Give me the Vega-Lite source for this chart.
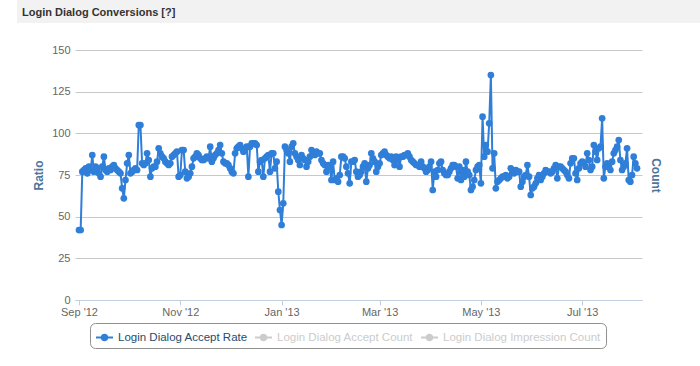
{
"$schema": "https://vega.github.io/schema/vega-lite/v6.json",
"background": "white",
"padding": {"left": 17, "top": 0, "right": 0, "bottom": 0},
"config": {"font": "Liberation Sans", "view": {"stroke": null}},
"spacing": 21,
"vconcat": [
{
"width": 683, "height": 23,
"view": {"fill": "#f2f2f2", "stroke": null},
"title": {"text": "Login Dialog Conversions [?]", "anchor": "start", "offset": -18, "dx": 5, "fontSize": 11, "font": "Liberation Sans", "fontWeight": "bold", "color": "#333333"},
"data": {"values": []},
"mark": "point"
},
{
"spacing": 14,
"hconcat": [
{"width": 1, "height": 1, "data": {"values": []}, "mark": "point"},
{
"width": 567, "height": 250,
"data": {"values": [
{"d":"2012-09-01","v":42},{"d":"2012-09-02","v":42},{"d":"2012-09-03","v":77},{"d":"2012-09-04","v":78},{"d":"2012-09-05","v":79},{"d":"2012-09-06","v":76},{"d":"2012-09-07","v":80},{"d":"2012-09-08","v":78},{"d":"2012-09-09","v":87},{"d":"2012-09-10","v":77},{"d":"2012-09-11","v":80},{"d":"2012-09-12","v":79},{"d":"2012-09-13","v":76},{"d":"2012-09-14","v":74},{"d":"2012-09-15","v":80},{"d":"2012-09-16","v":86},{"d":"2012-09-17","v":78},{"d":"2012-09-18","v":77},{"d":"2012-09-19","v":79},{"d":"2012-09-20","v":78},{"d":"2012-09-21","v":80},{"d":"2012-09-22","v":81},{"d":"2012-09-23","v":79},{"d":"2012-09-24","v":78},{"d":"2012-09-25","v":77},{"d":"2012-09-26","v":76},{"d":"2012-09-27","v":67},{"d":"2012-09-28","v":61},{"d":"2012-09-29","v":72},{"d":"2012-09-30","v":82},
{"d":"2012-10-01","v":87},{"d":"2012-10-02","v":76},{"d":"2012-10-03","v":77},{"d":"2012-10-04","v":78},{"d":"2012-10-05","v":79},{"d":"2012-10-06","v":78},{"d":"2012-10-07","v":105},{"d":"2012-10-08","v":105},{"d":"2012-10-09","v":82},{"d":"2012-10-10","v":81},{"d":"2012-10-11","v":82},{"d":"2012-10-12","v":88},{"d":"2012-10-13","v":84},{"d":"2012-10-14","v":74},{"d":"2012-10-15","v":79},{"d":"2012-10-16","v":80},{"d":"2012-10-17","v":80},{"d":"2012-10-18","v":83},{"d":"2012-10-19","v":91},{"d":"2012-10-20","v":88},{"d":"2012-10-21","v":86},{"d":"2012-10-22","v":85},{"d":"2012-10-23","v":83},{"d":"2012-10-24","v":82},{"d":"2012-10-25","v":81},{"d":"2012-10-26","v":82},{"d":"2012-10-27","v":86},{"d":"2012-10-28","v":87},{"d":"2012-10-29","v":88},{"d":"2012-10-30","v":89},{"d":"2012-10-31","v":74},
{"d":"2012-11-01","v":75},{"d":"2012-11-02","v":90},{"d":"2012-11-03","v":90},{"d":"2012-11-04","v":77},{"d":"2012-11-05","v":73},{"d":"2012-11-06","v":74},{"d":"2012-11-07","v":76},{"d":"2012-11-08","v":80},{"d":"2012-11-09","v":85},{"d":"2012-11-10","v":86},{"d":"2012-11-11","v":88},{"d":"2012-11-12","v":87},{"d":"2012-11-13","v":85},{"d":"2012-11-14","v":84},{"d":"2012-11-15","v":84},{"d":"2012-11-16","v":85},{"d":"2012-11-17","v":86},{"d":"2012-11-18","v":85},{"d":"2012-11-19","v":92},{"d":"2012-11-20","v":83},{"d":"2012-11-21","v":85},{"d":"2012-11-22","v":87},{"d":"2012-11-23","v":88},{"d":"2012-11-24","v":90},{"d":"2012-11-25","v":93},{"d":"2012-11-26","v":88},{"d":"2012-11-27","v":83},{"d":"2012-11-28","v":82},{"d":"2012-11-29","v":82},{"d":"2012-11-30","v":81},
{"d":"2012-12-01","v":79},{"d":"2012-12-02","v":77},{"d":"2012-12-03","v":76},{"d":"2012-12-04","v":88},{"d":"2012-12-05","v":91},{"d":"2012-12-06","v":92},{"d":"2012-12-07","v":93},{"d":"2012-12-08","v":91},{"d":"2012-12-09","v":89},{"d":"2012-12-10","v":90},{"d":"2012-12-11","v":92},{"d":"2012-12-12","v":74},{"d":"2012-12-13","v":92},{"d":"2012-12-14","v":94},{"d":"2012-12-15","v":94},{"d":"2012-12-16","v":94},{"d":"2012-12-17","v":93},{"d":"2012-12-18","v":77},{"d":"2012-12-19","v":83},{"d":"2012-12-20","v":84},{"d":"2012-12-21","v":74},{"d":"2012-12-22","v":85},{"d":"2012-12-23","v":86},{"d":"2012-12-24","v":87},{"d":"2012-12-25","v":77},{"d":"2012-12-26","v":88},{"d":"2012-12-27","v":88},{"d":"2012-12-28","v":79},{"d":"2012-12-29","v":83},{"d":"2012-12-30","v":65},{"d":"2012-12-31","v":54},
{"d":"2013-01-01","v":45},{"d":"2013-01-02","v":58},{"d":"2013-01-03","v":92},{"d":"2013-01-04","v":90},{"d":"2013-01-05","v":88},{"d":"2013-01-06","v":83},{"d":"2013-01-07","v":92},{"d":"2013-01-08","v":94},{"d":"2013-01-09","v":88},{"d":"2013-01-10","v":86},{"d":"2013-01-11","v":84},{"d":"2013-01-12","v":81},{"d":"2013-01-13","v":87},{"d":"2013-01-14","v":85},{"d":"2013-01-15","v":84},{"d":"2013-01-16","v":80},{"d":"2013-01-17","v":83},{"d":"2013-01-18","v":86},{"d":"2013-01-19","v":90},{"d":"2013-01-20","v":88},{"d":"2013-01-21","v":87},{"d":"2013-01-22","v":89},{"d":"2013-01-23","v":88},{"d":"2013-01-24","v":88},{"d":"2013-01-25","v":84},{"d":"2013-01-26","v":82},{"d":"2013-01-27","v":81},{"d":"2013-01-28","v":77},{"d":"2013-01-29","v":81},{"d":"2013-01-30","v":80},{"d":"2013-01-31","v":72},
{"d":"2013-02-01","v":83},{"d":"2013-02-02","v":72},{"d":"2013-02-03","v":73},{"d":"2013-02-04","v":71},{"d":"2013-02-05","v":75},{"d":"2013-02-06","v":86},{"d":"2013-02-07","v":86},{"d":"2013-02-08","v":85},{"d":"2013-02-09","v":80},{"d":"2013-02-10","v":76},{"d":"2013-02-11","v":70},{"d":"2013-02-12","v":83},{"d":"2013-02-13","v":83},{"d":"2013-02-14","v":84},{"d":"2013-02-15","v":77},{"d":"2013-02-16","v":74},{"d":"2013-02-17","v":75},{"d":"2013-02-18","v":77},{"d":"2013-02-19","v":80},{"d":"2013-02-20","v":82},{"d":"2013-02-21","v":71},{"d":"2013-02-22","v":79},{"d":"2013-02-23","v":81},{"d":"2013-02-24","v":88},{"d":"2013-02-25","v":85},{"d":"2013-02-26","v":83},{"d":"2013-02-27","v":77},{"d":"2013-02-28","v":80},
{"d":"2013-03-01","v":82},{"d":"2013-03-02","v":87},{"d":"2013-03-03","v":88},{"d":"2013-03-04","v":89},{"d":"2013-03-05","v":87},{"d":"2013-03-06","v":86},{"d":"2013-03-07","v":85},{"d":"2013-03-08","v":86},{"d":"2013-03-09","v":84},{"d":"2013-03-10","v":81},{"d":"2013-03-11","v":86},{"d":"2013-03-12","v":84},{"d":"2013-03-13","v":80},{"d":"2013-03-14","v":86},{"d":"2013-03-15","v":86},{"d":"2013-03-16","v":87},{"d":"2013-03-17","v":87},{"d":"2013-03-18","v":88},{"d":"2013-03-19","v":86},{"d":"2013-03-20","v":84},{"d":"2013-03-21","v":83},{"d":"2013-03-22","v":82},{"d":"2013-03-23","v":81},{"d":"2013-03-24","v":81},{"d":"2013-03-25","v":80},{"d":"2013-03-26","v":83},{"d":"2013-03-27","v":80},{"d":"2013-03-28","v":79},{"d":"2013-03-29","v":77},{"d":"2013-03-30","v":78},{"d":"2013-03-31","v":80},
{"d":"2013-04-01","v":83},{"d":"2013-04-02","v":66},{"d":"2013-04-03","v":77},{"d":"2013-04-04","v":74},{"d":"2013-04-05","v":78},{"d":"2013-04-06","v":82},{"d":"2013-04-07","v":83},{"d":"2013-04-08","v":78},{"d":"2013-04-09","v":76},{"d":"2013-04-10","v":75},{"d":"2013-04-11","v":75},{"d":"2013-04-12","v":77},{"d":"2013-04-13","v":79},{"d":"2013-04-14","v":81},{"d":"2013-04-15","v":81},{"d":"2013-04-16","v":80},{"d":"2013-04-17","v":73},{"d":"2013-04-18","v":80},{"d":"2013-04-19","v":72},{"d":"2013-04-20","v":78},{"d":"2013-04-21","v":74},{"d":"2013-04-22","v":83},{"d":"2013-04-23","v":77},{"d":"2013-04-24","v":75},{"d":"2013-04-25","v":66},{"d":"2013-04-26","v":68},{"d":"2013-04-27","v":72},{"d":"2013-04-28","v":78},{"d":"2013-04-29","v":80},{"d":"2013-04-30","v":81},
{"d":"2013-05-01","v":70},{"d":"2013-05-02","v":110},{"d":"2013-05-03","v":86},{"d":"2013-05-04","v":93},{"d":"2013-05-05","v":89},{"d":"2013-05-06","v":106},{"d":"2013-05-07","v":135},{"d":"2013-05-08","v":79},{"d":"2013-05-09","v":88},{"d":"2013-05-10","v":67},{"d":"2013-05-11","v":71},{"d":"2013-05-12","v":72},{"d":"2013-05-13","v":73},{"d":"2013-05-14","v":74},{"d":"2013-05-15","v":74},{"d":"2013-05-16","v":75},{"d":"2013-05-17","v":73},{"d":"2013-05-18","v":74},{"d":"2013-05-19","v":79},{"d":"2013-05-20","v":77},{"d":"2013-05-21","v":76},{"d":"2013-05-22","v":78},{"d":"2013-05-23","v":77},{"d":"2013-05-24","v":77},{"d":"2013-05-25","v":68},{"d":"2013-05-26","v":71},{"d":"2013-05-27","v":74},{"d":"2013-05-28","v":75},{"d":"2013-05-29","v":81},{"d":"2013-05-30","v":74},{"d":"2013-05-31","v":63},
{"d":"2013-06-01","v":67},{"d":"2013-06-02","v":68},{"d":"2013-06-03","v":70},{"d":"2013-06-04","v":73},{"d":"2013-06-05","v":75},{"d":"2013-06-06","v":72},{"d":"2013-06-07","v":74},{"d":"2013-06-08","v":76},{"d":"2013-06-09","v":78},{"d":"2013-06-10","v":77},{"d":"2013-06-11","v":77},{"d":"2013-06-12","v":76},{"d":"2013-06-13","v":77},{"d":"2013-06-14","v":79},{"d":"2013-06-15","v":81},{"d":"2013-06-16","v":73},{"d":"2013-06-17","v":80},{"d":"2013-06-18","v":80},{"d":"2013-06-19","v":79},{"d":"2013-06-20","v":78},{"d":"2013-06-21","v":77},{"d":"2013-06-22","v":75},{"d":"2013-06-23","v":73},{"d":"2013-06-24","v":82},{"d":"2013-06-25","v":85},{"d":"2013-06-26","v":85},{"d":"2013-06-27","v":76},{"d":"2013-06-28","v":72},{"d":"2013-06-29","v":79},{"d":"2013-06-30","v":82},
{"d":"2013-07-01","v":83},{"d":"2013-07-02","v":82},{"d":"2013-07-03","v":80},{"d":"2013-07-04","v":88},{"d":"2013-07-05","v":84},{"d":"2013-07-06","v":78},{"d":"2013-07-07","v":80},{"d":"2013-07-08","v":93},{"d":"2013-07-09","v":89},{"d":"2013-07-10","v":84},{"d":"2013-07-11","v":91},{"d":"2013-07-12","v":92},{"d":"2013-07-13","v":109},{"d":"2013-07-14","v":73},{"d":"2013-07-15","v":80},{"d":"2013-07-16","v":82},{"d":"2013-07-17","v":80},{"d":"2013-07-18","v":78},{"d":"2013-07-19","v":83},{"d":"2013-07-20","v":88},{"d":"2013-07-21","v":90},{"d":"2013-07-22","v":92},{"d":"2013-07-23","v":96},{"d":"2013-07-24","v":84},{"d":"2013-07-25","v":78},{"d":"2013-07-26","v":80},{"d":"2013-07-27","v":82},{"d":"2013-07-28","v":91},{"d":"2013-07-29","v":72},{"d":"2013-07-30","v":71},{"d":"2013-07-31","v":75},
{"d":"2013-08-01","v":86},{"d":"2013-08-02","v":82},{"d":"2013-08-03","v":79}
]},
"encoding": {
"x": {"field": "d", "type": "temporal",
"scale": {"type": "utc", "domain": [1346250240000, 1375747200000], "nice": false},
"axis": {"title": null, "grid": false, "values": [1346457600000, 1351728000000, 1356998400000, 1362096000000, 1367366400000, 1372636800000], "format": "%b '%y", "labelColor": "#666666", "labelFontSize": 11, "labelFont": "Liberation Sans", "domainColor": "#C0D0E0", "tickColor": "#C0D0E0", "tickSize": 5, "labelPadding": 1, "labelFlush": false}}
},
"layer": [
{
"layer": [
{"mark": {"type": "line", "color": "#2f7ed8", "strokeWidth": 2},
"encoding": {"y": {"field": "v", "type": "quantitative", "scale": {"domain": [0, 150], "nice": false},
"axis": {"values": [0, 25, 50, 75, 100, 125, 150], "title": "Ratio", "titleColor": "#4d759e", "titleFontSize": 12, "titleFontWeight": "bold", "titlePadding": 6, "labelColor": "#666666", "labelFontSize": 11, "labelPadding": 5, "ticks": false, "tickSize": 0, "domain": false, "gridColor": "#c8c8c8"}}}},
{"mark": {"type": "point", "filled": true, "size": 45, "opacity": 1},
"encoding": {"y": {"field": "v", "type": "quantitative"},
"color": {"datum": "Login Dialog Accept Rate", "type": "nominal",
"scale": {"domain": ["Login Dialog Accept Rate", "Login Dialog Accept Count", "Login Dialog Impression Count"], "range": ["#2f7ed8", "#cccccc", "#cccccc"]},
"legend": {"orient": "none", "legendX": 73, "legendY": 323, "direction": "horizontal", "title": null,
"symbolType": "M-1,-0.13H1V0.13H-1Z M0.45,0A0.45,0.45 0 1 1 -0.45,0A0.45,0.45 0 1 1 0.45,0Z",
"symbolSize": 289, "symbolOpacity": 1, "labelFontSize": 11.5, "labelFont": "Liberation Sans", "labelLimit": 400,
"labelColor": {"expr": "datum.value === 'Login Dialog Accept Rate' ? '#274b6d' : '#cccccc'"},
"strokeColor": "#909090", "cornerRadius": 5, "padding": 5, "columnPadding": 6, "labelOffset": 4}}}}
]
},
{"mark": {"type": "point", "opacity": 0},
"encoding": {"y": {"field": "v", "type": "quantitative",
"axis": {"orient": "right", "title": "Count", "labels": false, "ticks": false, "domain": false, "grid": false, "titleColor": "#4d759e", "titleFontSize": 12, "titleFontWeight": "bold", "titlePadding": 6}}}}
],
"resolve": {"scale": {"y": "independent"}}
}
]
}
]
}
